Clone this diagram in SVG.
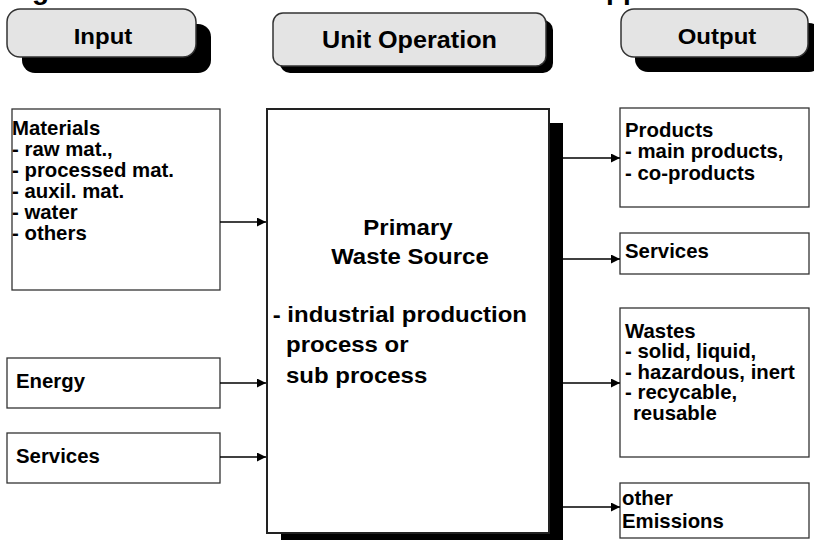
<svg xmlns="http://www.w3.org/2000/svg" width="814" height="540" viewBox="0 0 814 540">
  <defs>
    <marker id="arr" viewBox="0 0 10 10" refX="10" refY="5" markerWidth="11" markerHeight="9" markerUnits="userSpaceOnUse" orient="auto">
      <path d="M0,0 L10,5 L0,10 Z" fill="#000"/>
    </marker>
  </defs>
  <style>
    .hdr { fill: #e4e4e4; stroke: #333; stroke-width: 1.5; }
    .shd { fill: #000; }
    .box { fill: #fff; stroke: #333; stroke-width: 1.3; }
    .main { fill: #fff; stroke: #222; stroke-width: 2; }
    .t { font-family: "Liberation Sans", Arial, sans-serif; font-weight: bold; fill: #000; }
    .b { font-size: 19.5px; }
    .m { font-size: 22px; }
    .h { font-size: 22px; text-anchor: middle; }
    .c { text-anchor: middle; }
    .conn line { stroke: #000; stroke-width: 1.3; marker-end: url(#arr); }
  </style>
  <rect width="814" height="540" fill="#fff"/>

  <g id="title-fragment" class="t">
    <text x="32" y="-1" font-size="28">g</text>
    <text x="606" y="-1" font-size="28">pp</text>
  </g>

  <g id="hdr-input">
    <rect class="shd" x="22" y="24" width="189" height="49" rx="13"/>
    <rect class="hdr" x="7" y="9" width="189" height="48" rx="13"/>
    <text class="t h" transform="scale(1.09,1)" x="94.5" y="44.5">Input</text>
  </g>
  <g id="hdr-unit">
    <rect class="shd" x="280" y="20" width="273" height="53" rx="10"/>
    <rect class="hdr" x="273" y="13" width="273" height="53" rx="10"/>
    <text class="t h" style="font-size:23px" transform="scale(1.095,1)" x="374" y="48">Unit Operation</text>
  </g>
  <g id="hdr-output">
    <rect class="shd" x="635" y="23" width="187" height="49" rx="13"/>
    <rect class="hdr" x="621" y="9" width="187" height="48" rx="13"/>
    <text class="t h" transform="scale(1.09,1)" x="657.8" y="44.5">Output</text>
  </g>

  <g id="in-materials">
    <rect class="box" x="12" y="109" width="208" height="181"/>
    <g class="t b" transform="scale(1.045,1)">
      <text x="11.5" y="135">Materials</text>
      <text x="11.5" y="156">- raw mat.,</text>
      <text x="11.5" y="177">- processed mat.</text>
      <text x="11.5" y="198">- auxil. mat.</text>
      <text x="11.5" y="219">- water</text>
      <text x="11.5" y="240">- others</text>
    </g>
  </g>
  <g id="in-energy">
    <rect class="box" x="7" y="358" width="213" height="50"/>
    <text class="t b" transform="scale(1.045,1)" x="15.3" y="388">Energy</text>
  </g>
  <g id="in-services">
    <rect class="box" x="7" y="433" width="213" height="50"/>
    <text class="t b" transform="scale(1.045,1)" x="15.3" y="463">Services</text>
  </g>

  <g id="unit-operation">
    <rect class="shd" x="281" y="123" width="282" height="424"/>
    <rect class="main" x="267" y="109" width="282" height="424"/>
    <g class="t m" transform="scale(1.09,1)">
      <text class="c" x="374.3" y="235">Primary</text>
      <text class="c" x="376.1" y="264">Waste Source</text>
      <text x="250.2" y="322">- industrial production</text>
      <text x="262.4" y="352">process or</text>
      <text x="262.4" y="383">sub process</text>
    </g>
  </g>

  <g id="out-products">
    <rect class="box" x="620" y="108" width="189" height="99"/>
    <g class="t b" transform="scale(1.045,1)">
      <text x="598.1" y="137">Products</text>
      <text x="598.1" y="158">- main products,</text>
      <text x="598.1" y="180">- co-products</text>
    </g>
  </g>
  <g id="out-services">
    <rect class="box" x="620" y="233" width="189" height="41"/>
    <text class="t b" transform="scale(1.045,1)" x="598.1" y="258">Services</text>
  </g>
  <g id="out-wastes">
    <rect class="box" x="620" y="308" width="189" height="149"/>
    <g class="t b" transform="scale(1.045,1)">
      <text x="598.1" y="338">Wastes</text>
      <text x="598.1" y="358">- solid, liquid,</text>
      <text x="598.1" y="379">- hazardous, inert</text>
      <text x="598.1" y="399">- recycable,</text>
      <text x="605.7" y="420">reusable</text>
    </g>
  </g>
  <g id="out-emissions">
    <rect class="box" x="620" y="483" width="189" height="55"/>
    <g class="t b" transform="scale(1.045,1)">
      <text x="595.2" y="505">other</text>
      <text x="595.2" y="528">Emissions</text>
    </g>
  </g>

  <g id="connectors" class="conn">
    <line x1="220" y1="222" x2="266" y2="222"/>
    <line x1="220" y1="383" x2="266" y2="383"/>
    <line x1="220" y1="457" x2="266" y2="457"/>
    <line x1="563" y1="158" x2="620" y2="158"/>
    <line x1="563" y1="259" x2="620" y2="259"/>
    <line x1="563" y1="383" x2="620" y2="383"/>
    <line x1="563" y1="507" x2="620" y2="507"/>
  </g>
</svg>
